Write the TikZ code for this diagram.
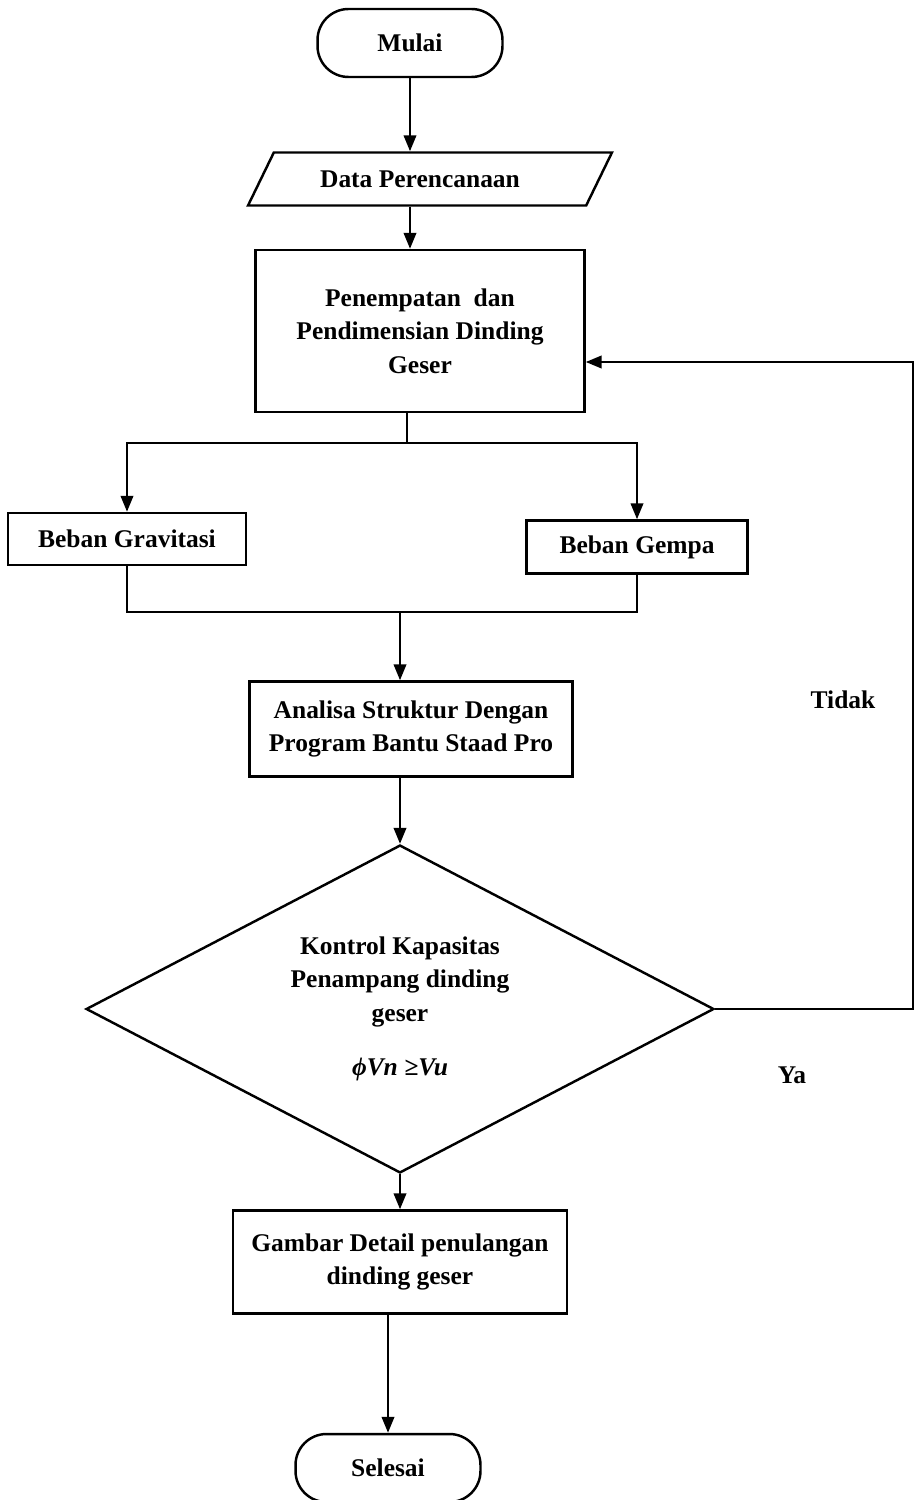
\documentclass[tikz,border=0pt]{standalone}
\usepackage{fontspec}
\setmainfont{Liberation Serif}
\usepackage{tikz}
\usetikzlibrary{shapes.geometric, arrows.meta}
\tikzset{
    terminal/.style={rectangle, rounded corners=0.62cm, draw=black, line width=1.4pt, minimum width=3.7cm, minimum height=1.36cm, text centered},
    io/.style={trapezium, trapezium left angle=48, trapezium right angle=132, trapezium stretches body, draw=black, line width=1.4pt, minimum height=1.06cm},
    block/.style={rectangle, draw=black, fill=white, align=center, line width=1.4pt, inner sep=4pt},
    decision/.style={diamond, aspect=1.9, draw=black, align=center, line width=1.4pt, inner sep=0pt},
    arrow/.style={line width=1.4pt, -{Triangle[length=9pt, width=7pt]}},
    line/.style={line width=1.4pt}
}

\begin{document}
\begin{tikzpicture}[x=0.02cm, y=-0.02cm, font=\fontsize{14.5}{19}\selectfont\bfseries]
    \useasboundingbox (0,0) rectangle (919,1500);

    \node (mulai) [terminal] at (410,43) {Mulai};
    \node (data) [io, minimum width=7.28cm] at (430,179) {Data Perencanaan\hspace*{0.4cm}};
    \node (place) [block, minimum width=6.58cm, minimum height=3.24cm] at (420,331) {Penempatan\ \ dan\\Pendimensian Dinding\\Geser};
    \node (grav) [block, minimum width=4.76cm, minimum height=1.04cm] at (127,539) {Beban Gravitasi};
    \node (gempa) [block, minimum width=4.42cm, minimum height=1.06cm] at (637,547) {Beban Gempa};
    \node (analisa) [block, minimum width=6.46cm, minimum height=1.9cm] at (411,729) {Analisa Struktur Dengan\\Program Bantu Staad Pro};
    \node (cek) [decision, minimum width=12.56cm, minimum height=6.56cm] at (400,1009) {Kontrol Kapasitas\\Penampang dinding\\geser\\[12pt]\textit{ϕVn ≥Vu}};
    \node (gambar) [block, minimum width=6.68cm, minimum height=2.06cm] at (400,1262) {Gambar Detail penulangan\\dinding geser};
    \node (selesai) [terminal] at (388,1468) {Selesai};

    \node (tidak) at (843,700) {Tidak};
    \node (ya) at (792,1075) {Ya};

    \coordinate (split) at (407,443);
    \coordinate (merge) at (400,612);
    \coordinate (back) at (913,362);

    \draw [arrow] (mulai.south) -- (mulai.south |- data.north);
    \draw [arrow] (data.south -| mulai) -- (place.north -| mulai);
    \draw [line] (place.south -| split) -- (split);
    \draw [arrow] (split) -| (grav.north);
    \draw [arrow] (split) -| (gempa.north);
    \draw [line] (grav.south) |- (merge);
    \draw [line] (gempa.south) |- (merge);
    \draw [arrow] (merge) -- (merge |- analisa.north);
    \draw [arrow] (analisa.south -| cek) -- (cek.north);
    \draw [arrow] (cek.south) -- (gambar.north);
    \draw [arrow] (gambar.south -| selesai) -- (selesai.north);
    \draw [arrow] (cek.east) -| (back) -- (back -| place.east);
\end{tikzpicture}
\end{document}
